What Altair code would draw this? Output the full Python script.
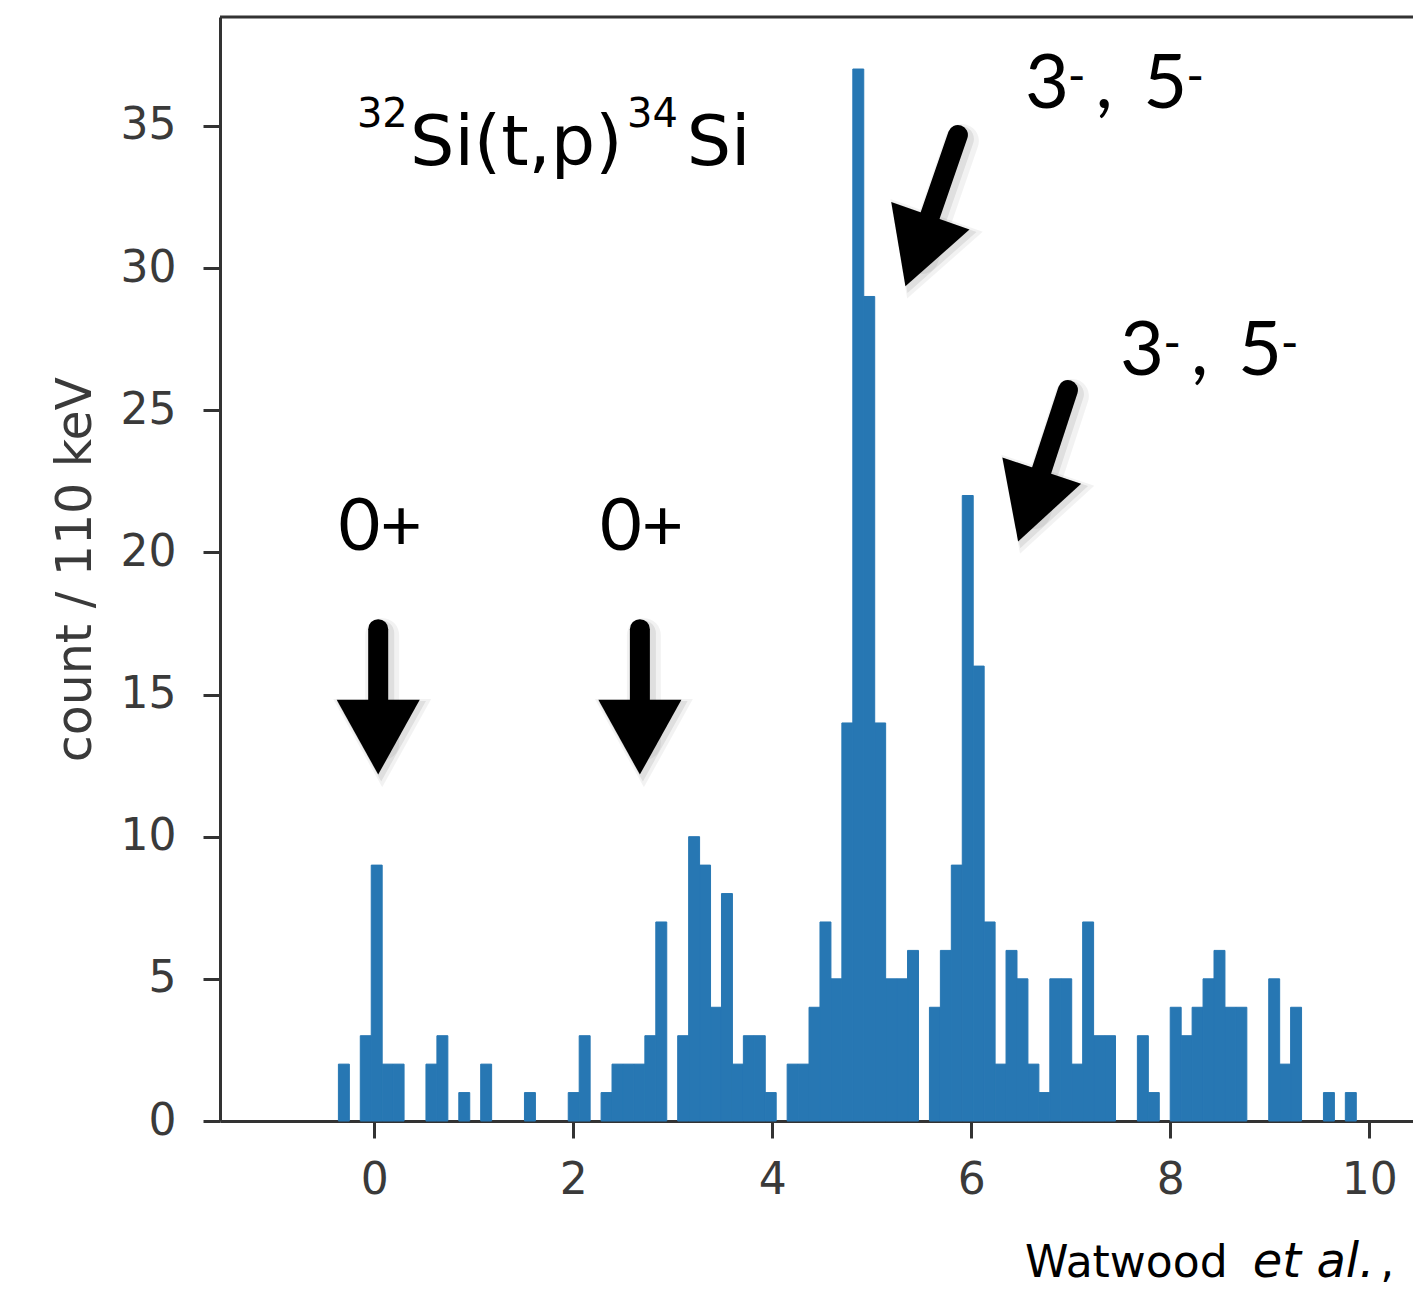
import altair as alt
import pandas as pd

# ---- histogram data (counts per 110 keV bin) ----
bin_start = -0.36
bin_width = 0.11
counts = [2, 0, 3, 9, 2, 2, 0, 0, 2, 3,
          0, 1, 0, 2, 0, 0, 0, 1, 0, 0,
          0, 1, 3, 0, 1, 2, 2, 2, 3, 7,
          0, 3, 10, 9, 4, 8, 2, 3, 3, 1,
          0, 2, 2, 4, 7, 5, 14, 37, 29, 14,
          5, 5, 6, 0, 4, 6, 9, 22, 16, 7,
          2, 6, 5, 2, 1, 5, 5, 2, 7, 3,
          3, 0, 0, 3, 1, 0, 4, 3, 4, 5,
          6, 4, 4, 0, 0, 5, 2, 4, 0, 0,
          1, 0, 1]

x_ticks = [0, 2, 4, 6, 8, 10]
y_ticks = [0, 5, 10, 15, 20, 25, 30, 35]
x_domain = [-1.55, 10.44]
y_domain = [0, 38.83]

# ---- annotation data ----
arrow_id = [1, 1, 2, 2, 3, 3, 4, 4]
arrow_x = [0.04, 0.04, 2.67, 2.67, 5.866, 5.464, 6.972, 6.590]
arrow_y = [17.3, 13.5, 17.3, 13.5, 34.68, 30.6, 25.71, 21.63]
head_x = [0.04, 2.67, 5.464, 6.590]
head_y = [13.5, 13.5, 30.6, 21.63]
head_angle = [0, 0, 19.5, 18.4]

center_text = ["0+", "0+"]
center_x = [0.06, 2.69]
center_y = [20.08, 20.08]

# title 32Si(t,p)34Si (DejaVu Sans)
title_text = ["32", "Si(t,p)", "34", "Si"]
title_x = [-0.174, 0.359, 2.54, 3.14]
title_y = [34.96, 33.63, 34.96, 33.63]
title_fs = [40, 70, 40, 70]

# spin labels (Lato)
spin_text = ["3", "-", ",", "5", "-",
             "3", "-", ",", "5", "-"]
spin_x = [6.54, 6.97, 7.25, 7.73, 8.16,
          7.495, 7.93, 8.21, 8.68, 9.11]
spin_y = [35.63, 36.16, 35.63, 35.63, 36.16,
          26.24, 26.77, 26.24, 26.24, 26.77]
spin_fs = [76, 48, 76, 76, 48,
           76, 48, 76, 76, 48]

# citation
cite_text = ["Watwood", ","]
cite_x = [6.54, 10.11]
cite_y = [-5.49, -5.49]
italic_text = ["et al."]
italic_x = [8.83]
italic_y = [-5.49]

# ---- build tables ----
hist = pd.DataFrame({"count": counts})
hist["x0"] = [bin_start + i * bin_width for i in range(len(counts))]
hist["x1"] = hist["x0"] + bin_width
hist = hist[hist["count"] > 0]

xs = alt.Scale(domain=x_domain, nice=False, zero=False)
ys = alt.Scale(domain=y_domain, nice=False, zero=False)

bar_color = "#2777b3"
bars = alt.Chart(hist).mark_rect(color=bar_color, stroke=bar_color, strokeWidth=1).encode(
    x=alt.X("x0:Q", scale=xs, axis=alt.Axis(values=x_ticks, format="d", title=None)),
    x2="x1:Q",
    y=alt.Y("count:Q", scale=ys, axis=alt.Axis(values=y_ticks, format="d", title="count / 110 keV")),
    y2=alt.datum(0),
)

top_rule = alt.Chart(pd.DataFrame({"a": [0]})).mark_rule(color="#333333", strokeWidth=3).encode(
    x=alt.value(0), x2=alt.value(1193), y=alt.value(0)
)

arrows_df = pd.DataFrame({"id": arrow_id, "x": arrow_x, "y": arrow_y, "o": list(range(len(arrow_id)))})
heads_df = pd.DataFrame({"x": head_x, "y": head_y, "angle": head_angle})
tri = "M -1 -0.9 L 1 -0.9 L 0 0.9 Z"


def shaft_layer(color, width, opacity, dx, dy):
    return alt.Chart(arrows_df).mark_line(
        color=color, strokeWidth=width, strokeCap="round", opacity=opacity, xOffset=dx, yOffset=dy
    ).encode(x=alt.X("x:Q", scale=xs), y=alt.Y("y:Q", scale=ys), detail="id:N", order="o:Q")


def head_layer(color, size, opacity, dx, dy):
    return alt.Chart(heads_df).mark_point(
        shape=tri, filled=True, color=color, opacity=opacity, size=size, strokeWidth=0,
        xOffset=dx, yOffset=dy
    ).encode(x=alt.X("x:Q", scale=xs), y=alt.Y("y:Q", scale=ys), angle=alt.Angle("angle:Q", scale=None))


shadows = [
    shaft_layer("#000000", 34, 0.05, 4, 6),
    head_layer("#000000", 9600, 0.05, 4, 6),
    shaft_layer("#000000", 26, 0.08, 3, 4),
    head_layer("#000000", 8000, 0.08, 3, 4),
]
shafts = shaft_layer("black", 20, 1, 0, 0)
heads = head_layer("black", 6900, 1, 0, 0)

ctext = alt.Chart(pd.DataFrame({"t": center_text, "x": center_x, "y": center_y})).mark_text(
    font="Lato", fontSize=72, align="center", baseline="alphabetic", color="black"
).encode(x=alt.X("x:Q", scale=xs), y=alt.Y("y:Q", scale=ys), text="t:N")

ttext = alt.Chart(pd.DataFrame({"t": title_text, "x": title_x, "y": title_y, "fs": title_fs})).mark_text(
    font="DejaVu Sans", align="left", baseline="alphabetic", color="black"
).encode(x=alt.X("x:Q", scale=xs), y=alt.Y("y:Q", scale=ys), text="t:N",
         size=alt.Size("fs:Q", scale=None, legend=None))

stext = alt.Chart(pd.DataFrame({"t": spin_text, "x": spin_x, "y": spin_y, "fs": spin_fs})).mark_text(
    font="Lato", align="left", baseline="alphabetic", color="black"
).encode(x=alt.X("x:Q", scale=xs), y=alt.Y("y:Q", scale=ys), text="t:N",
         size=alt.Size("fs:Q", scale=None, legend=None))

wtext = alt.Chart(pd.DataFrame({"t": cite_text, "x": cite_x, "y": cite_y})).mark_text(
    font="DejaVu Sans", fontSize=44, align="left", baseline="alphabetic", color="black"
).encode(x=alt.X("x:Q", scale=xs), y=alt.Y("y:Q", scale=ys), text="t:N")

itext = alt.Chart(pd.DataFrame({"t": italic_text, "x": italic_x, "y": italic_y})).mark_text(
    font="DejaVu Sans", fontSize=48, fontStyle="italic", align="left", baseline="alphabetic", color="black"
).encode(x=alt.X("x:Q", scale=xs), y=alt.Y("y:Q", scale=ys), text="t:N")

chart = alt.layer(bars, top_rule, *shadows, shafts, heads, ctext, ttext, stext, wtext, itext).properties(
    width=1193, height=1104,
    padding={"left": 220, "top": 17, "right": 0, "bottom": 169},
    autosize=alt.AutoSizeParams(type="none"),
    background="white",
).configure_view(stroke=None).configure_axis(
    grid=False,
    domainColor="#333333", domainWidth=3,
    tickColor="#333333", tickWidth=3, tickSize=17,
    labelFont="DejaVu Sans", labelFontSize=44, labelColor="#3a3a3a",
    titleFont="DejaVu Sans", titleFontSize=49, titleColor="#3a3a3a", titleFontWeight="normal",
).configure_axisX(labelPadding=20).configure_axisY(labelPadding=27, titlePadding=20)

chart.save("out.html", embed_options={"renderer": "svg", "actions": False})
